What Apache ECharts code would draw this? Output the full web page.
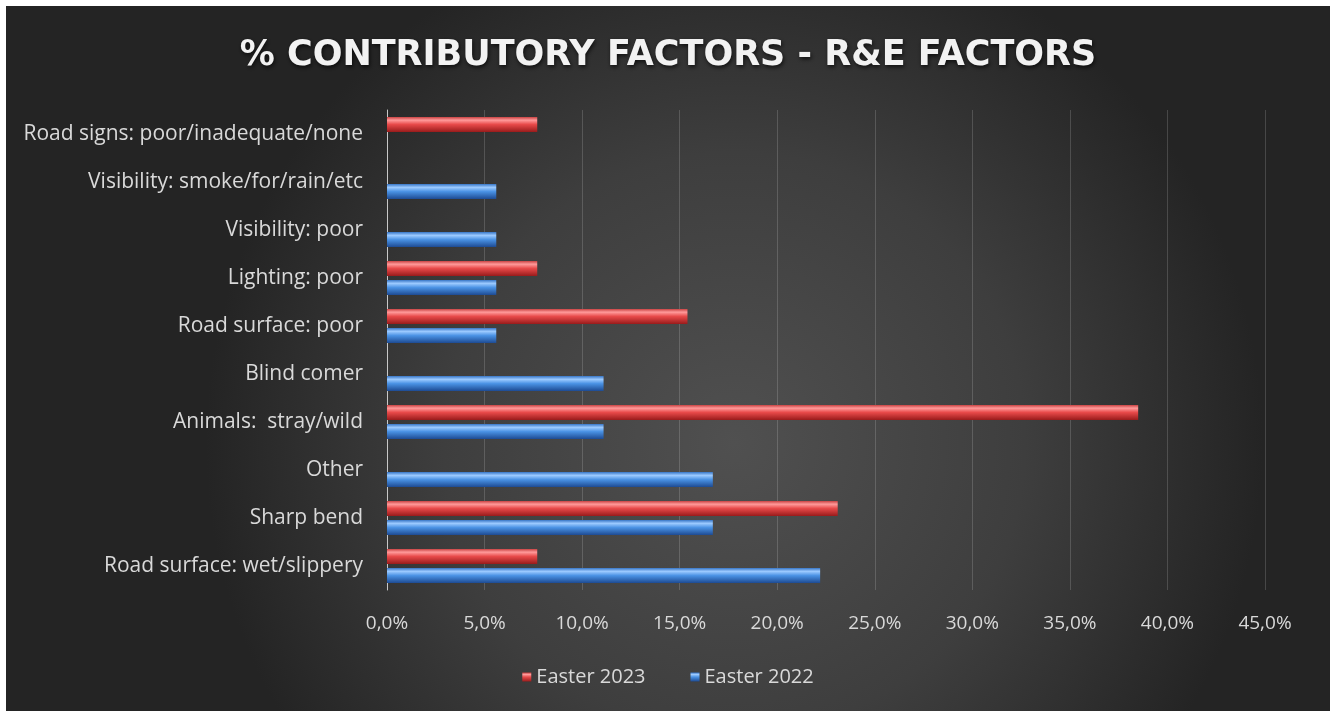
<!DOCTYPE html>
<html>
<head>
<meta charset="utf-8">
<script src="https://cdn.jsdelivr.net/npm/echarts@6/dist/echarts.min.js"></script>
<style>
  html, body { margin: 0; padding: 0; background: #ffffff; }
  #chart { position: absolute; left: 6px; top: 6px; width: 1324px; height: 705px; }
</style>
</head>
<body>
<div id="chart"></div>
<script>
// Contributory factors, listed bottom to top as they appear on the axis
const categories = [
  'Road surface: wet/slippery',
  'Sharp bend',
  'Other',
  'Animals:  stray/wild',
  'Blind comer',
  'Road surface: poor',
  'Lighting: poor',
  'Visibility: poor',
  'Visibility: smoke/for/rain/etc',
  'Road signs: poor/inadequate/none'
];

// Share of crashes per factor (%), null where a factor was not recorded
const easter2023 = [7.7, 23.1, null, 38.5, null, 15.4, 7.7, null, null, 7.7];
const easter2022 = [22.2, 16.7, 16.7, 11.1, 11.1, 5.6, 5.6, 5.6, 5.6, null];

const xTicks = { min: 0, max: 45, interval: 5 };

const chart = echarts.init(document.getElementById('chart'));

function tube(dark, light, mid, deep) {
  return new echarts.graphic.LinearGradient(0, 0, 0, 1, [
    { offset: 0, color: dark },
    { offset: 0.22, color: light },
    { offset: 0.5, color: mid },
    { offset: 1, color: deep }
  ]);
}

const redFill = tube('#c84040', '#ff9a9a', '#e84a4a', '#9a1c1c');
const blueFill = tube('#3a78c8', '#9ccaff', '#4a92e4', '#1d4a92');

const labelFont = '"Open Sans", Lato, sans-serif';

chart.setOption({
  backgroundColor: new echarts.graphic.RadialGradient(0.55, 0.62, 0.75, [
    { offset: 0, color: '#505050' },
    { offset: 0.55, color: '#3e3e3e' },
    { offset: 1, color: '#242424' }
  ]),
  title: {
    text: '% CONTRIBUTORY FACTORS - R&E FACTORS',
    left: 'center',
    top: 27,
    textStyle: {
      color: '#f2f2f2',
      fontSize: 35,
      fontWeight: 'bold',
      fontFamily: '"DejaVu Sans", "Open Sans", sans-serif',
      textShadowColor: 'rgba(0,0,0,0.7)',
      textShadowBlur: 4,
      textShadowOffsetX: 1,
      textShadowOffsetY: 2
    }
  },
  legend: {
    bottom: 19,
    left: 'center',
    itemWidth: 9,
    itemHeight: 9,
    itemGap: 45,
    icon: 'rect',
    textStyle: { color: '#d9d9d9', fontSize: 20, fontFamily: labelFont },
    data: ['Easter 2023', 'Easter 2022']
  },
  grid: { left: 381, right: 65, top: 104, bottom: 121 },
  xAxis: {
    type: 'value',
    min: xTicks.min,
    max: xTicks.max,
    interval: xTicks.interval,
    axisLine: { show: false },
    axisTick: { show: false },
    splitLine: { show: true, lineStyle: { color: 'rgba(255,255,255,0.16)', width: 1 } },
    axisLabel: {
      color: '#d9d9d9',
      fontSize: 19,
      fontFamily: labelFont,
      margin: 24,
      formatter: v => v.toFixed(1).replace('.', ',') + '%'
    }
  },
  yAxis: {
    type: 'category',
    data: categories,
    axisLine: { show: true, lineStyle: { color: '#c8c8c8', width: 1 } },
    axisTick: { show: false },
    axisLabel: { color: '#d9d9d9', fontSize: 21, fontFamily: labelFont, margin: 24, padding: [3, 0, 0, 0] }
  },
  series: [
    {
      name: 'Easter 2023',
      type: 'bar',
      data: easter2023,
      barWidth: 15,
      barGap: '28%',
      itemStyle: {
        color: redFill,
        shadowColor: 'rgba(0,0,0,0.6)',
        shadowBlur: 4,
        shadowOffsetX: 1,
        shadowOffsetY: 3
      }
    },
    {
      name: 'Easter 2022',
      type: 'bar',
      data: easter2022,
      barWidth: 15,
      barGap: '28%',
      itemStyle: {
        color: blueFill,
        shadowColor: 'rgba(0,0,0,0.6)',
        shadowBlur: 4,
        shadowOffsetX: 1,
        shadowOffsetY: 3
      }
    }
  ]
});
</script>
</body>
</html>
